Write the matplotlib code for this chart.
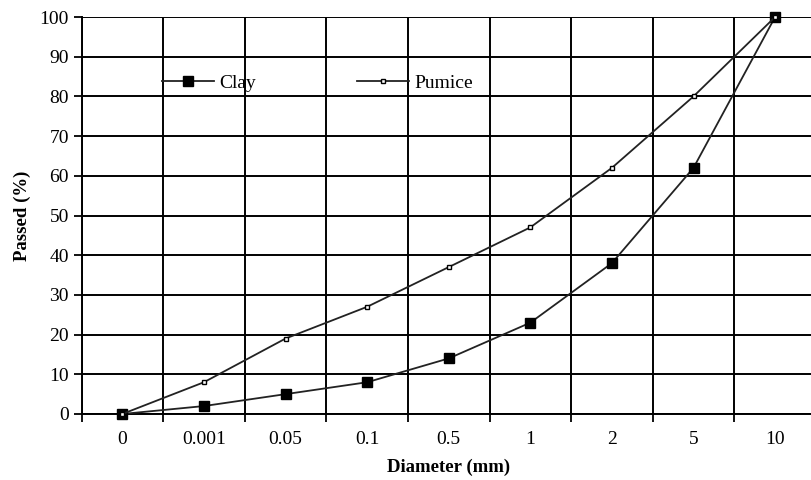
import numpy as np
import matplotlib
matplotlib.use('Agg')
import matplotlib.pyplot as plt

diam_labels = ['0', '0.001', '0.05', '0.1', '0.5', '1', '2', '5', '10']
clay = [0, 2, 5, 8, 14, 23, 38, 62, 100]
pumice = [0, 8, 19, 27, 37, 47, 62, 80, 100]

plt.rcParams['font.family'] = ['Liberation Serif', 'DejaVu Serif']

fig = plt.figure(figsize=(8.11, 4.80), dpi=100)
# plot area runs slightly past the right edge like the original
ax = fig.add_axes([81.5 / 811, 1 - 414 / 480, 734.4 / 811, 397 / 480])

x = np.arange(len(diam_labels))
ax.plot(x, clay, color='#222222', lw=1.3, marker='s', ms=7,
        mfc='black', mec='black', label='Clay', clip_on=False, zorder=4)
ax.plot(x, pumice, color='#222222', lw=1.3, marker='s', ms=3.5,
        mfc='white', mec='black', mew=1, label='Pumice', clip_on=False, zorder=4)

ax.set_xlim(-0.5, len(diam_labels) - 0.5)
ax.set_ylim(0, 100)
ax.set_yticks(range(0, 101, 10))

# category labels centred, ticks/grid on the boundaries
ax.set_xticks(x)
ax.set_xticklabels(diam_labels)
ax.tick_params(axis='x', which='major', length=0, pad=12, labelsize=14)
ax.set_xticks(np.arange(-0.5, len(diam_labels)), minor=True)
ax.tick_params(axis='x', which='minor', length=6, width=1.3, direction='out')
ax.tick_params(axis='y', length=6, width=1.3, direction='out', labelsize=14, pad=3)

ax.grid(True, which='minor', axis='x', color='black', lw=1.4)
ax.grid(True, which='major', axis='y', color='black', lw=1.4)
ax.set_axisbelow(True)

for s in ['top', 'right']:
    ax.spines[s].set_visible(False)
for s in ['left', 'bottom']:
    ax.spines[s].set_linewidth(1.4)

ax.set_ylabel('Passed (%)', fontweight='bold', fontsize=13.5, labelpad=6)
ax.set_xlabel('Diameter (mm)', fontweight='bold', fontsize=13.5, labelpad=8)

ax.legend(loc='center left', bbox_to_anchor=(0.1096, 0.834), ncol=2, frameon=False,
          fontsize=14, handlelength=2.65, columnspacing=5.2, handletextpad=0.3,
          borderpad=0, borderaxespad=0)

fig.savefig('out.png', dpi=100)
